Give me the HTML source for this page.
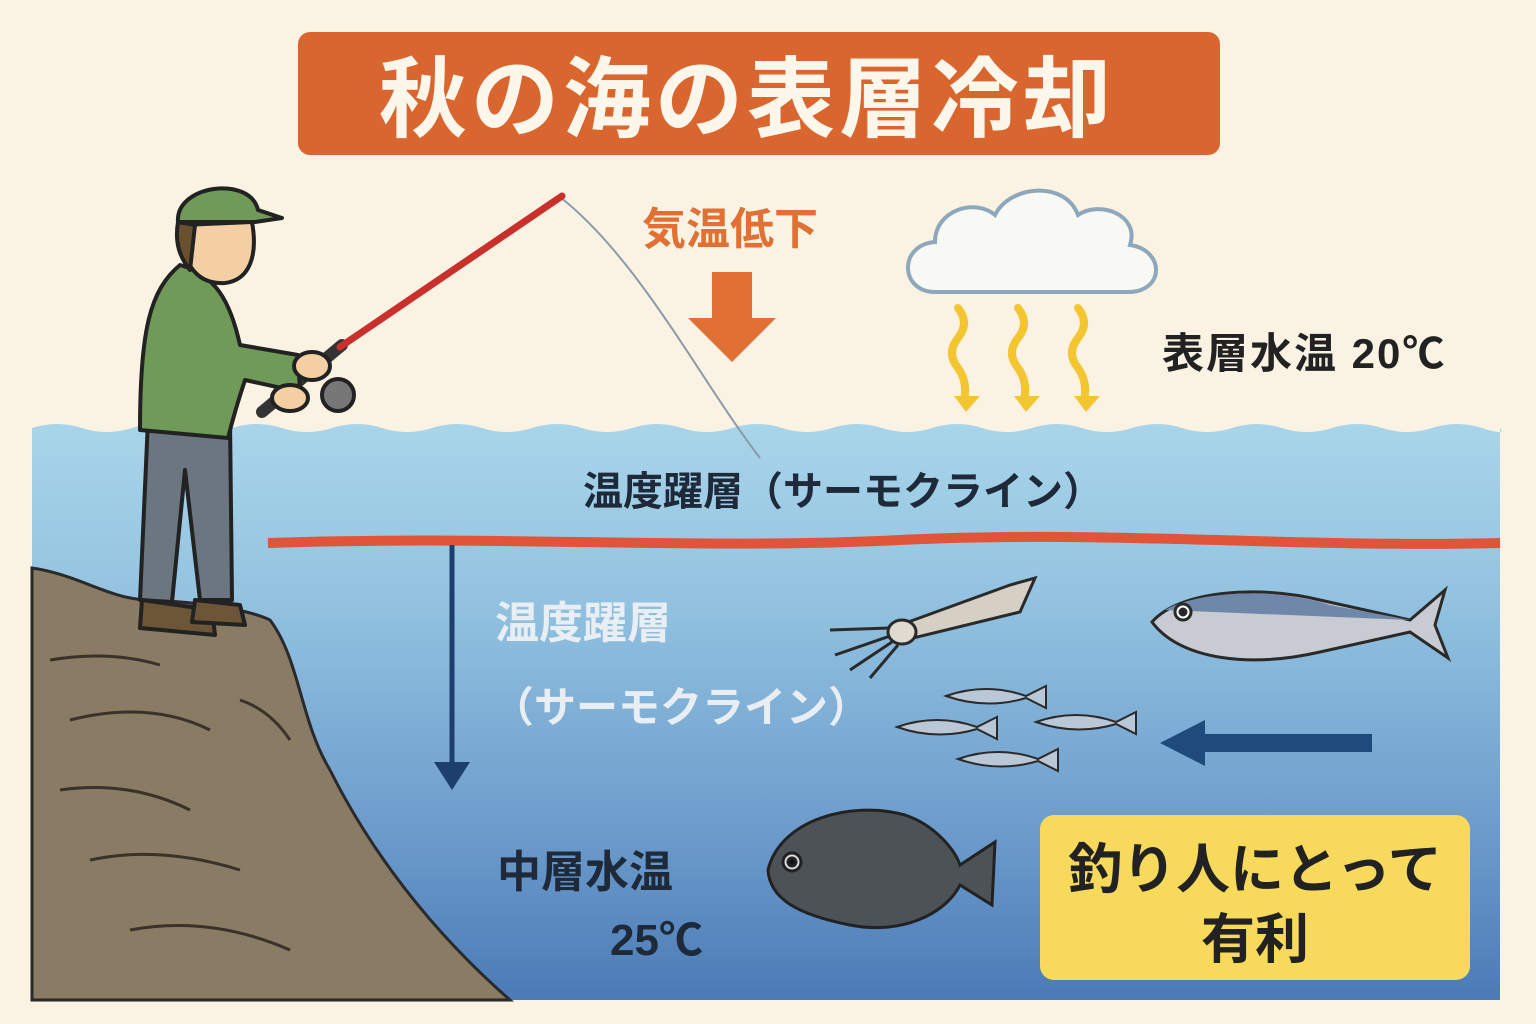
<!DOCTYPE html>
<html><head><meta charset="utf-8"><style>
html,body{margin:0;padding:0;background:#faf3e4;}
svg{display:block}
text{font-family:"Liberation Sans","Noto Sans CJK JP",sans-serif;font-weight:bold}
</style></head><body>
<svg width="1536" height="1024" viewBox="0 0 1536 1024" xmlns="http://www.w3.org/2000/svg">
<defs>
<linearGradient id="sea" x1="0" y1="0" x2="0" y2="1">
<stop offset="0" stop-color="#a9d5ea"/><stop offset="0.3" stop-color="#93c3e0"/><stop offset="0.7" stop-color="#6d9ccc"/><stop offset="1" stop-color="#4b7bb6"/>
</linearGradient>
</defs>
<rect width="1536" height="1024" fill="#faf3e4"/>
<!-- title -->
<rect x="298" y="32" width="922" height="123" rx="12" fill="#d9662f"/>
<text x="747" y="130" font-size="88" fill="#fdf6ea" text-anchor="middle" letter-spacing="4">秋の海の表層冷却</text>
<!-- air temp -->
<text x="730" y="244" font-size="44" fill="#e07034" text-anchor="middle">気温低下</text>
<rect x="712" y="272" width="40" height="48" fill="#e07034"/>
<polygon points="688,318 776,318 732,362" fill="#e07034"/>
<!-- cloud -->
<path d="M935,292 C900,292 898,245 935,242 C935,210 975,198 995,215 C1010,185 1065,180 1078,215 C1100,200 1140,215 1130,245 C1165,250 1165,292 1128,292 Z" fill="#f8f8f5" stroke="#8ea7ba" stroke-width="4"/>
<g fill="none" stroke="#f2c531" stroke-width="8" stroke-linecap="round">
<path d="M958,308 q12,15 0,30 q-12,15 0,30 q10,14 6,32"/>
<path d="M1018,308 q12,15 0,30 q-12,15 0,30 q10,14 6,32"/>
<path d="M1078,308 q12,15 0,30 q-12,15 0,30 q10,14 6,32"/>
</g>
<g fill="#f2c531"><polygon points="954,396 980,396 966,412"/><polygon points="1014,396 1040,396 1026,412"/><polygon points="1074,396 1100,396 1086,412"/></g>
<text x="1162" y="368" font-size="42" fill="#222" letter-spacing="2">表層水温 20℃</text>
<!-- sea -->
<path d="M32,428 q25,-8 50,0 t50,0 t50,0 t50,0 t50,0 t50,0 t50,0 t50,0 t50,0 t50,0 t50,0 t50,0 t50,0 t50,0 t50,0 t50,0 t50,0 t50,0 t50,0 t50,0 t50,0 t50,0 t50,0 t50,0 t50,0 t50,0 t50,0 t50,0 t50,0 t18,0 V1000 H32 Z" fill="url(#sea)"/>
<text x="583" y="505" font-size="40" fill="#1e2a3a">温度躍層（サーモクライン）</text>
<path d="M268,543 C500,535 700,550 900,540 S1300,548 1500,543" stroke="#e0553a" stroke-width="10" fill="none"/>
<line x1="452" y1="545" x2="452" y2="765" stroke="#1c3f6e" stroke-width="5"/>
<polygon points="434,762 470,762 452,790" fill="#1c3f6e"/>
<text x="495" y="638" font-size="44" fill="#e8eef3">温度躍層</text>
<text x="492" y="722" font-size="42" fill="#e8eef3">（サーモクライン）</text>
<text x="497" y="887" font-size="44" fill="#1e2a3a">中層水温</text>
<text x="610" y="955" font-size="44" fill="#1e2a3a">25℃</text>
<!-- arrow left -->
<rect x="1200" y="734" width="172" height="18" fill="#1f4a7c"/>
<polygon points="1160,743 1205,720 1205,766" fill="#1f4a7c"/>
<!-- yellow box -->
<rect x="1040" y="815" width="430" height="165" rx="14" fill="#f7da5b"/>
<text x="1255" y="888" font-size="54" fill="#222" text-anchor="middle">釣り人にとって</text>
<text x="1255" y="958" font-size="54" fill="#222" text-anchor="middle">有利</text>
<!-- squid -->
<g stroke="#2a2a2a" stroke-width="3" fill="#d6d0c4">
<path d="M900,625 L1010,585 L1035,578 L1020,612 L905,640 Z"/>
<ellipse cx="902" cy="632" rx="14" ry="12" fill="#e0dbd0"/>
<path d="M890,628 L830,630 M890,636 L835,655 M892,642 L850,670 M898,645 L870,678" fill="none"/>
</g>
<!-- mackerel -->
<g stroke="#2a2a2a" stroke-width="3">
<path d="M1152,622 C1180,590 1260,585 1320,600 L1410,620 L1445,590 L1435,625 L1448,658 L1410,632 L1320,652 C1250,668 1180,660 1152,622 Z" fill="#c8ccd2"/>
<path d="M1165,610 C1200,590 1280,588 1330,605 L1410,620" fill="#6f88aa" stroke="none"/>
<circle cx="1183" cy="612" r="8" fill="#fff"/><circle cx="1183" cy="612" r="3" fill="#222"/>
</g>
<!-- small fish -->
<g stroke="#2a2a2a" stroke-width="2" fill="#b9c7d6">
<path d="M946,696 q40,-14 80,0 l20,-10 v22 l-20,-10 q-40,12 -80,-2z"/>
<path d="M897,727 q40,-14 80,0 l20,-10 v22 l-20,-10 q-40,12 -80,-2z"/>
<path d="M1036,722 q40,-14 80,0 l20,-10 v22 l-20,-10 q-40,12 -80,-2z"/>
<path d="M958,759 q40,-14 80,0 l20,-10 v22 l-20,-10 q-40,12 -80,-2z"/>
</g>
<!-- black seabream -->
<g stroke="#222" stroke-width="3">
<path d="M768,870 C780,820 850,800 905,815 C935,825 955,850 960,865 L995,842 L992,905 L960,885 C945,915 900,935 850,925 C800,915 770,900 768,870 Z" fill="#4d5257"/>
<circle cx="792" cy="862" r="9" fill="#ddd"/><circle cx="792" cy="862" r="4" fill="#111"/>
</g>
<!-- rock -->
<path d="M32,568 C80,575 110,600 150,600 C200,602 250,610 270,620 C300,660 300,720 330,770 C370,850 430,930 510,1000 H32 Z" fill="#8a7b65" stroke="#2a2a2a" stroke-width="3"/>
<g stroke="#3a3228" stroke-width="3" fill="none">
<path d="M50,660 q60,-10 110,5"/><path d="M70,720 q80,-20 140,10"/><path d="M60,790 q70,-10 130,20"/><path d="M90,860 q70,-15 150,10"/><path d="M130,930 q80,-15 160,20"/><path d="M240,700 q30,10 50,40"/>
</g>
<!-- rod and line -->
<path d="M560,197 C640,260 700,380 760,458" stroke="#8a9aa8" stroke-width="2" fill="none"/>
<line x1="262" y1="412" x2="342" y2="345" stroke="#333" stroke-width="12" stroke-linecap="round"/>
<line x1="340" y1="347" x2="562" y2="196" stroke="#c9302c" stroke-width="7" stroke-linecap="round"/>
<circle cx="338" cy="395" r="16" fill="#777" stroke="#222" stroke-width="4"/>
<!-- fisherman -->
<g stroke="#222" stroke-width="4" stroke-linejoin="round">
<path d="M148,420 L140,600 L172,602 L185,470 L200,600 L232,600 L230,420 Z" fill="#6b7680"/>
<path d="M142,600 L140,628 L215,635 L212,610 Z" fill="#6d5538"/>
<path d="M195,600 L192,622 L245,625 L240,605 Z" fill="#6d5538"/>
<path d="M180,265 C150,290 140,330 140,430 L228,438 C235,410 240,395 245,380 L300,392 L298,355 L240,345 C230,300 215,275 180,265 Z" fill="#6f9a58"/>
<path d="M182,225 C180,260 195,285 225,283 C250,280 258,255 252,222 Z" fill="#f3cfa3"/>
<path d="M178,222 C175,240 178,255 190,270 L195,225 Z" fill="#6b5030"/>
<path d="M178,222 C175,185 250,175 258,210 L282,218 L255,222 Z" fill="#6f9a58"/>
<ellipse cx="312" cy="366" rx="18" ry="14" fill="#f3cfa3"/>
<ellipse cx="290" cy="398" rx="18" ry="13" fill="#f3cfa3"/>
</g>
</svg>
</body></html>
